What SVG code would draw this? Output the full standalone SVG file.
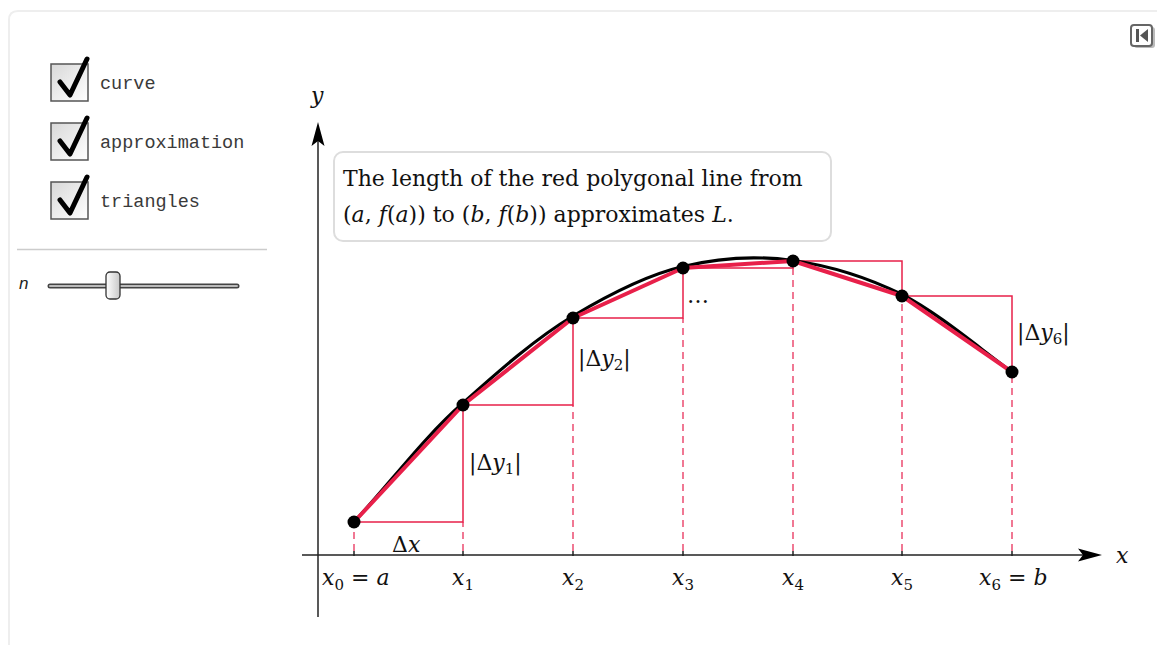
<svg xmlns="http://www.w3.org/2000/svg" width="1157" height="645" viewBox="0 0 1157 645">
<defs>
<linearGradient id="cbg" x1="0" y1="0" x2="1" y2="1"><stop offset="0" stop-color="#d8d8d8"/><stop offset="1" stop-color="#ffffff"/></linearGradient>
<linearGradient id="knob" x1="0" y1="0" x2="1" y2="0"><stop offset="0" stop-color="#ffffff"/><stop offset="1" stop-color="#c8c8c8"/></linearGradient>
<style>
.cb{fill:url(#cbg);stroke:#555;stroke-width:1.5}
.chk{fill:none;stroke:#000;stroke-width:5;stroke-linecap:round;stroke-linejoin:round}
.lbl{font-family:"Liberation Mono",monospace;font-size:18.5px;fill:#3a3a3a}
.m{font-family:"DejaVu Serif","Liberation Serif",serif;font-size:22px;fill:#111}
.i{font-style:italic}
.sub{font-size:15px}
.dash{stroke:#e8305a;stroke-width:1.3;stroke-dasharray:7,5;fill:none}
.tri{stroke:#e8204a;stroke-width:1.5;fill:none}
.pt{fill:#000}
.axis{stroke:#222;stroke-width:1.5;fill:none}
</style>
</defs>
<rect x="0" y="0" width="1157" height="645" fill="#fff"/>
<path d="M9 645 V20 Q9 11 18 11 H1157" fill="none" stroke="#eeeeee" stroke-width="2"/>

<g id="controls">
<g id="cb-curve"><rect class="cb" x="51" y="64" width="37" height="37"/><path class="chk" d="M60 82 L70 95 L87 59"/><text class="lbl" x="100" y="89">curve</text></g>
<g id="cb-approx"><rect class="cb" x="51" y="123" width="37" height="37"/><path class="chk" d="M60 141 L70 154 L87 118"/><text class="lbl" x="100" y="148">approximation</text></g>
<g id="cb-tri"><rect class="cb" x="51" y="182" width="37" height="37"/><path class="chk" d="M60 200 L70 213 L87 177"/><text class="lbl" x="100" y="207">triangles</text></g>
<line x1="17" y1="249.5" x2="267" y2="249.5" stroke="#cccccc" stroke-width="1.5"/>
<g id="slider">
<text x="19" y="289" font-family="Liberation Sans,sans-serif" font-style="italic" font-size="17" fill="#222">n</text>
<line x1="50" y1="286" x2="237" y2="286" stroke="#444" stroke-width="5" stroke-linecap="round"/>
<line x1="50" y1="286" x2="237" y2="286" stroke="#bbb" stroke-width="2" stroke-linecap="round"/>
<rect x="106" y="272" width="14" height="27" rx="4" fill="url(#knob)" stroke="#333" stroke-width="1.3"/>
</g>
</g>

<g id="reset-icon">
<rect x="1134" y="27" width="21" height="21" rx="3" fill="#bbb"/>
<rect x="1131" y="25" width="21" height="21" rx="3" fill="#fff" stroke="#666" stroke-width="2"/>
<rect x="1136" y="29" width="3" height="13" fill="#555"/>
<path d="M1148 29 L1140 35.5 L1148 42 Z" fill="#555"/>
</g>

<g id="connectors">
<line class="axis" x1="302" y1="555" x2="1085" y2="555"/>
<path d="M1102 555 L1078 548.5 L1083 555 L1078 561.5 Z" fill="#000"/>
<line class="axis" x1="318" y1="617" x2="318" y2="140"/>
<path d="M318 122 L311.5 146 L318 141 L324.5 146 Z" fill="#000"/>

<g id="ticks" stroke="#222" stroke-width="1.5">
<line x1="354" y1="551" x2="354" y2="556"/><line x1="463" y1="551" x2="463" y2="556"/><line x1="573" y1="551" x2="573" y2="556"/><line x1="683" y1="551" x2="683" y2="556"/><line x1="793" y1="551" x2="793" y2="556"/><line x1="902" y1="551" x2="902" y2="556"/><line x1="1012" y1="551" x2="1012" y2="556"/>
</g>
<g id="dashes">
<line class="dash" x1="354" y1="551" x2="354" y2="522"/>
<line class="dash" x1="463" y1="551" x2="463" y2="522"/>
<line class="dash" x1="573" y1="551" x2="573" y2="405"/>
<line class="dash" x1="683" y1="551" x2="683" y2="318"/>
<line class="dash" x1="793" y1="551" x2="793" y2="268"/>
<line class="dash" x1="902" y1="551" x2="902" y2="296"/>
<line class="dash" x1="1012" y1="551" x2="1012" y2="372"/>
</g>
<g id="triangles">
<path class="tri" d="M354 522 H463 V405"/>
<path class="tri" d="M463 405 H573 V318"/>
<path class="tri" d="M573 318 H683 V268"/>
<path class="tri" d="M683 268 H793 V261"/>
<path class="tri" d="M793 261 H902 V296"/>
<path class="tri" d="M902 296 H1012 V372"/>
</g>
<path id="curve" d="M354 522 C390.3 483 424 437 463 403 C501 369 536.3 338 573 316 C609.7 294 646.3 275 683 266.5 C719.7 257.5 756.5 255.5 793 260.5 C829.5 265.7 865.5 276.5 902 294.5 C938.5 313.5 975.3 345 1012 372" fill="none" stroke="#000" stroke-width="3.2"/>
<polyline id="approx" points="354,522 463,405 573,318 683,268 793,261 902,296 1012,372" fill="none" stroke="#e8204a" stroke-width="4" stroke-linejoin="round"/>
</g>

<g id="points">
<circle class="pt" cx="354" cy="522" r="6.5"/>
<circle class="pt" cx="463" cy="405" r="6.5"/>
<circle class="pt" cx="573" cy="318" r="6.5"/>
<circle class="pt" cx="683" cy="268" r="6.5"/>
<circle class="pt" cx="793" cy="261" r="6.5"/>
<circle class="pt" cx="902" cy="296" r="6.5"/>
<circle class="pt" cx="1012" cy="372" r="6.5"/>
</g>

<g id="labels">
<text class="m i" x="311" y="103">y</text>
<text class="m i" x="1116" y="563">x</text>
<text class="m" x="322" y="585"><tspan class="i">x</tspan><tspan class="sub" dy="5">0</tspan><tspan dy="-5"> = </tspan><tspan class="i">a</tspan></text>
<text class="m" x="452" y="585"><tspan class="i">x</tspan><tspan class="sub" dy="5">1</tspan></text>
<text class="m" x="562" y="585"><tspan class="i">x</tspan><tspan class="sub" dy="5">2</tspan></text>
<text class="m" x="672" y="585"><tspan class="i">x</tspan><tspan class="sub" dy="5">3</tspan></text>
<text class="m" x="782" y="585"><tspan class="i">x</tspan><tspan class="sub" dy="5">4</tspan></text>
<text class="m" x="891" y="585"><tspan class="i">x</tspan><tspan class="sub" dy="5">5</tspan></text>
<text class="m" x="979" y="585"><tspan class="i">x</tspan><tspan class="sub" dy="5">6</tspan><tspan dy="-5"> = </tspan><tspan class="i">b</tspan></text>
<text class="m" x="392" y="552">Δ<tspan class="i">x</tspan></text>
<text class="m" x="469" y="470">|Δ<tspan class="i">y</tspan><tspan class="sub" dy="4">1</tspan><tspan dy="-4">|</tspan></text>
<text class="m" x="578" y="366">|Δ<tspan class="i">y</tspan><tspan class="sub" dy="4">2</tspan><tspan dy="-4">|</tspan></text>
<text class="m" x="687" y="303">…</text>
<text class="m" x="1017" y="340">|Δ<tspan class="i">y</tspan><tspan class="sub" dy="4">6</tspan><tspan dy="-4">|</tspan></text>
</g>

<g id="note">
<rect x="334" y="152" width="497" height="89" rx="9" fill="#fff" stroke="#dddddd" stroke-width="2"/>
<text class="m" x="343" y="186">The length of the red polygonal line from</text>
<text class="m" x="343" y="222">(<tspan class="i">a</tspan>, <tspan class="i">f</tspan>(<tspan class="i">a</tspan>)) to (<tspan class="i">b</tspan>, <tspan class="i">f</tspan>(<tspan class="i">b</tspan>)) approximates  <tspan class="i">L</tspan>.</text>
</g>
</svg>
